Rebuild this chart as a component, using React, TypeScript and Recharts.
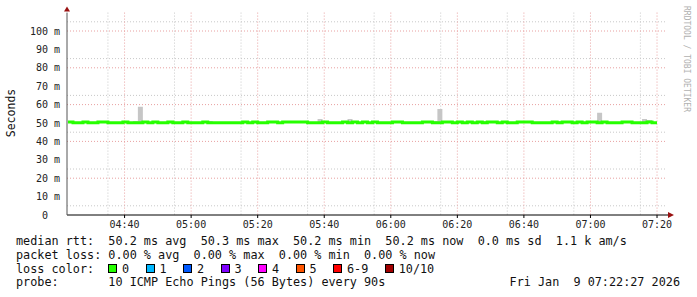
import { ComposedChart, Line, Area, XAxis, YAxis, CartesianGrid, ReferenceDot } from "recharts"

// 90 s steps, minutes after 04:00
const startMin = 23.0
const stepMin = 1.5

// median rtt per step (ms)
const medianRtt = [
  50.6, 50.2, 50.2, 50.6, 50.2, 50.2, 50.6, 50.6, 50.2, 50.2,
  50.2, 50.6, 50.2, 50.2, 50.2, 50.6, 50.2, 50.6, 50.2, 50.2,
  50.6, 50.2, 50.2, 50.6, 50.2, 50.2, 50.2, 50.6, 50.2, 50.2,
  50.2, 50.2, 50.2, 50.2, 50.2, 50.6, 50.2, 50.6, 50.2, 50.2,
  50.6, 50.6, 50.2, 50.6, 50.6, 50.6, 50.6, 50.6, 50.2, 50.2,
  50.2, 50.6, 50.2, 50.2, 50.2, 50.6, 50.2, 50.6, 50.2, 50.6,
  50.2, 50.6, 50.2, 50.2, 50.2, 50.6, 50.6, 50.2, 50.2, 50.2,
  50.2, 50.6, 50.6, 50.2, 50.2, 50.6, 50.6, 50.2, 50.6, 50.2,
  50.6, 50.2, 50.6, 50.2, 50.6, 50.6, 50.2, 50.6, 50.2, 50.2,
  50.6, 50.6, 50.6, 50.2, 50.2, 50.2, 50.2, 50.6, 50.2, 50.6,
  50.6, 50.2, 50.6, 50.2, 50.6, 50.6, 50.2, 50.6, 50.2, 50.2,
  50.2, 50.6, 50.6, 50.2, 50.2, 50.2, 50.6, 50.2,
]

// steps where the ping smoke rises above the median
const smokeSlots = [13, 14, 28, 50, 56, 73, 74, 83, 98, 106, 115, 116]
const smokeTops = [51.1, 58.8, 51.1, 52.2, 52.2, 51.1, 57.6, 51.1, 51.1, 55.6, 52.2, 51.6]
const smokeFloor = 50.0

const yTicks = [0, 10, 20, 30, 40, 50, 60, 70, 80, 90, 100]
const yMinor = [5, 15, 25, 35, 45, 55, 65, 75, 85, 95, 105]
const xTicks = [40, 60, 80, 100, 120, 140, 160, 180, 200]
const xMinor = [
  25, 30, 35, 45, 50, 55, 65, 70, 75, 85, 90, 95, 105, 110, 115,
  125, 130, 135, 145, 150, 155, 165, 170, 175, 185, 190, 195,
]
const xDomain = [22.7, 203.0]
const yDomain = [0, 110]

const lossColors = [
  { label: "0", color: "#26ff00" },
  { label: "1", color: "#00b8ff" },
  { label: "2", color: "#0059ff" },
  { label: "3", color: "#7e00ff" },
  { label: "4", color: "#ff00ff" },
  { label: "5", color: "#ff5500" },
  { label: "6-9", color: "#ff0000" },
  { label: "10/10", color: "#a00000" },
]

const rows = medianRtt.map((m, i) => {
  const k = smokeSlots.indexOf(i)
  return { t: startMin + i * stepMin, median: m, smoke: [smokeFloor, k >= 0 ? smokeTops[k] : m] }
})
const last = medianRtt[medianRtt.length - 1]
rows.push({ t: startMin + medianRtt.length * stepMin, median: last, smoke: [smokeFloor, last] })

const mono = "'DejaVu Sans Mono', monospace"

function hhmm(v: number) {
  const h = Math.floor(v / 60) + 4
  const m = Math.round(v % 60)
  return `${String(h).padStart(2, "0")}:${String(m).padStart(2, "0")}`
}

const arrowRight = (p: any) => (
  <g>
    <line x1={p.cx} y1={p.cy} x2={p.cx + 2} y2={p.cy} stroke="#000" />
    <polygon points={`${p.cx + 1},${p.cy - 3} ${p.cx + 7},${p.cy} ${p.cx + 1},${p.cy + 3}`} fill="#991111" />
  </g>
)
const arrowUp = (p: any) => (
  <polygon points={`${p.cx - 3},${p.cy - 1} ${p.cx + 3},${p.cy - 1} ${p.cx},${p.cy - 6}`} fill="#991111" />
)

const textLine = (top: number): React.CSSProperties => ({
  position: "absolute",
  left: 16,
  top,
  fontFamily: mono,
  fontSize: 11.8,
  lineHeight: "14px",
  whiteSpace: "pre",
  color: "#111",
})

export default function App() {
  return (
    <div style={{ position: "absolute", left: 0, top: 0, width: 697, height: 297, background: "#fff", overflow: "hidden" }}>
      <ComposedChart width={697} height={297} data={rows} margin={{ top: 12.6, right: 30, left: 0, bottom: 0 }}>
        <CartesianGrid
          horizontalValues={yMinor}
          verticalValues={xMinor}
          stroke="#c8c8c8"
          strokeDasharray="1 2"
        />
        <CartesianGrid
          horizontalValues={yTicks.filter((v) => v > 0)}
          verticalValues={xTicks}
          stroke="#e8a0a0"
          strokeDasharray="1 2"
        />
        <XAxis
          dataKey="t"
          type="number"
          domain={xDomain}
          allowDataOverflow
          ticks={xTicks}
          tickFormatter={hhmm}
          height={82}
          stroke="#000"
          tickSize={3}
          tickMargin={3}
          tick={{ fontSize: 10, fill: "#222", fontFamily: mono }}
        />
        <YAxis
          type="number"
          domain={yDomain}
          allowDataOverflow
          ticks={yTicks}
          tickFormatter={(v: number) => (v === 0 ? "0\u00a0\u00a0" : `${v} m`)}
          width={67}
          stroke="#555"
          tickSize={0}
          tickMargin={7}
          tick={{ fontSize: 10, fill: "#222", fontFamily: mono }}
        />
        <Area
          dataKey="smoke"
          type="stepAfter"
          fill="#c6c6c6"
          fillOpacity={1}
          stroke="none"
          isAnimationActive={false}
        />
        <Line
          dataKey="median"
          type="stepAfter"
          stroke="#26ff00"
          strokeWidth={3}
          dot={false}
          isAnimationActive={false}
        />
        <ReferenceDot x={xDomain[1]} y={0} shape={arrowRight} ifOverflow="visible" />
        <ReferenceDot x={xDomain[0]} y={yDomain[1]} shape={arrowUp} ifOverflow="visible" />
      </ComposedChart>

      <div
        style={{
          position: "absolute", left: 11 - 40, top: 113 - 7, width: 80, textAlign: "center",
          transform: "rotate(-90deg)", fontFamily: mono, fontSize: 11.5, lineHeight: "14px", color: "#111",
        }}
      >
        Seconds
      </div>
      <div
        style={{
          position: "absolute", left: 686 - 60, top: 59 - 5, width: 120, textAlign: "center",
          transform: "rotate(90deg)", fontFamily: mono, fontSize: 8, lineHeight: "10px", color: "#b0b0b0",
        }}
      >
        RRDTOOL / TOBI OETIKER
      </div>

      <div style={textLine(234)}>median rtt:  50.2 ms avg  50.3 ms max  50.2 ms min  50.2 ms now  0.0 ms sd  1.1 k am/s</div>
      <div style={textLine(248)}>packet loss: 0.00 % avg  0.00 % max  0.00 % min  0.00 % now</div>
      <div style={{ ...textLine(261.5), display: "flex", alignItems: "center" }}>
        <span style={{ width: 92 }}>loss color:</span>
        {lossColors.map((c) => (
          <span key={c.label} style={{ display: "flex", alignItems: "center", marginRight: 16.4 }}>
            <span style={{ width: 7, height: 7, background: c.color, border: "1px solid #000", marginRight: 5 }} />
            {c.label}
          </span>
        ))}
      </div>
      <div style={textLine(275)}>probe:       10 ICMP Echo Pings (56 Bytes) every 90s</div>
      <div style={{ ...textLine(275), left: "auto", right: 17 }}>Fri Jan  9 07:22:27 2026</div>
    </div>
  )
}
